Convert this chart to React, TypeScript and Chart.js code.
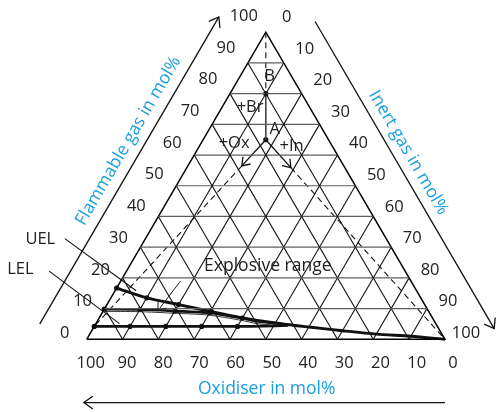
import React, { useEffect, useRef } from "react";
import { Chart, registerables } from "chart.js";

Chart.register(...registerables);

const W = 498;
const H = 412;

// tick values along each axis (mol%)
const TICKS = [0, 10, 20, 30, 40, 50, 60, 70, 80, 90, 100];
const TICK_LABELS = TICKS.map((t) => String(t));
const GRID_STEPS = [10, 20, 30, 40, 50, 60, 70, 80, 90];

// upper explosion limit curve: inert gas mol% -> flammable gas mol%
const UEL_INERT = [0, 10, 20, 30, 40, 50, 60, 70, 80, 90, 100];
const UEL_FLAM = [16.7, 13.5, 11.3, 9.1, 7.0, 5.3, 4.0, 2.8, 1.7, 1.0, 0];
// intermediate limit curve
const MID_INERT = [0, 10, 20, 30, 40, 45, 50];
const MID_FLAM = [9.8, 9.7, 9.2, 8.6, 6.9, 5.8, 5.3];
// lower explosion limit curve
const LEL_INERT = [0, 10, 20, 30, 40, 47, 54];
const LEL_FLAM = [4.2, 4.2, 4.2, 4.2, 4.2, 4.3, 4.5];
const DOT_COUNT = 5;

// mixture points (flammable %, inert %)
const POINT_A = { f: 65, i: 17.5 };
const POINT_B = { f: 80, i: 10 };

const S3 = Math.sqrt(3) / 2;
const tp = (f: number, i: number) => ({ x: i + f / 2, y: f * S3 });
const lerp = (a: { f: number; i: number }, b: { f: number; i: number }, t: number) => ({
  f: a.f + (b.f - a.f) * t,
  i: a.i + (b.i - a.i) * t,
});

export default function App() {
  const ref = useRef<HTMLCanvasElement | null>(null);

  useEffect(() => {
    document.body.style.margin = "0";
    const canvas = ref.current;
    if (!canvas) return;

    const datasets: any[] = [];
    const line = (pts: { x: number; y: number }[], color: string, width: number, extra: any = {}) => {
      datasets.push({
        data: pts,
        showLine: true,
        borderColor: color,
        backgroundColor: color,
        borderWidth: width,
        pointRadius: 0,
        pointHoverRadius: 0,
        fill: false,
        tension: 0,
        ...extra,
      });
    };

    // grid
    GRID_STEPS.forEach((k) => {
      line([tp(k, 0), tp(k, 100 - k)], "#5e5e5e", 1.2);
      line([tp(0, k), tp(100 - k, k)], "#111", 1.1);
      line([tp(0, 100 - k), tp(100 - k, 0)], "#111", 1.1);
    });
    // triangle border
    line([tp(0, 0), tp(0, 100), tp(100, 0), tp(0, 0)], "#000", 1.5);

    // construction lines
    const apex = { f: 100, i: 0 };
    const oxTarget = { f: LEL_FLAM[0], i: 0 };
    const inCorner = { f: 0, i: 100 };
    const oxTip = lerp(POINT_A, oxTarget, 0.14);
    const inTip = lerp(POINT_A, inCorner, 0.14);
    const dash = { borderDash: [6, 4] };
    line([tp(apex.f, apex.i), tp(POINT_B.f, POINT_B.i)], "#111", 1.1, dash);
    line([tp(oxTip.f, oxTip.i), tp(oxTarget.f, oxTarget.i)], "#111", 1.1, dash);
    line([tp(inTip.f, inTip.i), tp(inCorner.f, inCorner.i)], "#111", 1.1, dash);
    line([tp(POINT_B.f, POINT_B.i), tp(POINT_A.f, POINT_A.i)], "#444", 1.6);
    line([tp(POINT_A.f, POINT_A.i), tp(oxTip.f, oxTip.i)], "#111", 1.3, { arrow: "end" });
    line([tp(POINT_A.f, POINT_A.i), tp(inTip.f, inTip.i)], "#111", 1.3, { arrow: "end" });
    line([tp(19.0, 16.7), tp(9.3, 15.2)], "#222", 1, { arrow: "end" });

    // outer axis lines with arrows
    line([tp(5, -15.6), tp(105, -15.6)], "#111", 1.3, { arrow: "end", head: 11 });
    line([tp(103.5, 12), tp(3.5, 112)], "#111", 1.3, { arrow: "end", head: 11 });
    line([tp(-20.6, 110.3), tp(-20.6, 9.5)], "#111", 1.3, { arrow: "end", head: 11 });

    // label pointers
    line([tp(32.8, -22.5), tp(15.8, 5.9)], "#111", 1.1);
    line([tp(22.2, -21.6), tp(5.1, 6.6)], "#111", 1.1);

    // limit curves
    const curve = (ins: number[], fls: number[]) => ins.map((v, k) => tp(fls[k], v));
    line(curve(MID_INERT, MID_FLAM.map((v) => v - 0.7)), "#333", 1, { tension: 0.25 });
    line(curve(LEL_INERT, LEL_FLAM), "#111", 2.7, { tension: 0.25 });
    line(curve(MID_INERT, MID_FLAM), "#111", 2.7, { tension: 0.25 });
    line(curve(UEL_INERT, UEL_FLAM), "#111", 2.9, { tension: 0.25 });

    // dots
    const dots = [
      ...curve(UEL_INERT, UEL_FLAM).slice(0, DOT_COUNT - 1),
      ...curve(MID_INERT, MID_FLAM).slice(0, DOT_COUNT),
      ...curve(LEL_INERT, LEL_FLAM).slice(0, DOT_COUNT),
      tp(POINT_A.f, POINT_A.i),
      tp(POINT_B.f, POINT_B.i),
    ];
    datasets.push({
      data: dots,
      showLine: false,
      pointRadius: 2.6,
      pointHoverRadius: 2.6,
      pointBackgroundColor: "#111",
      pointBorderColor: "#111",
      pointBorderWidth: 0,
    });

    const FAM = '"Open Sans", Roboto, sans-serif';
    const DIGIT_FONT = `16.5px ${FAM}`;
    const BIG_FONT = `17.5px ${FAM}`;
    const BLUE = "#1aa0dc";
    const texts: { t: string; f: number; i: number; font: string; color: string; rot?: string }[] = [
      { t: "B", f: 85.5, i: 8.3, font: DIGIT_FONT, color: "#222" },
      { t: "+Br", f: 75.6, i: 7.8, font: DIGIT_FONT, color: "#222" },
      { t: "A", f: 68.5, i: 18.2, font: DIGIT_FONT, color: "#222" },
      { t: "+Ox", f: 63.7, i: 9.3, font: DIGIT_FONT, color: "#222" },
      { t: "+In", f: 63.0, i: 25.7, font: DIGIT_FONT, color: "#222" },
      { t: "Explosive range", f: 23.8, i: 38.65, font: BIG_FONT, color: "#222" },
      { t: "UEL", f: 32.5, i: -29.2, font: DIGIT_FONT, color: "#222" },
      { t: "LEL", f: 22.8, i: -29.9, font: DIGIT_FONT, color: "#222" },
      { t: "Flammable gas in mol%", f: 64.6, i: -20.7, font: BIG_FONT, color: BLUE, rot: "left" },
      { t: "Inert gas in mol%", f: 60.8, i: 59.4, font: BIG_FONT, color: BLUE, rot: "right" },
      { t: "Oxidiser in mol%", f: -16.1, i: 58.3, font: BIG_FONT, color: BLUE },
    ];

    const overlay = {
      id: "ternaryOverlay",
      afterDatasetsDraw(chart: any) {
        const ctx = chart.ctx as CanvasRenderingContext2D;
        const xs = chart.scales.x;
        const ys = chart.scales.y;
        const px = (p: { x: number; y: number }) => [xs.getPixelForValue(p.x), ys.getPixelForValue(p.y)];
        ctx.save();
        // arrowheads
        chart.data.datasets.forEach((ds: any) => {
          if (!ds.arrow) return;
          const n = ds.data.length;
          const [tx, ty] = px(ds.data[n - 1]);
          const [fx, fy] = px(ds.data[n - 2]);
          const len = ds.head || 9;
          const ang = Math.atan2(ty - fy, tx - fx);
          const sp = 0.62;
          ctx.strokeStyle = ds.borderColor;
          ctx.lineWidth = ds.borderWidth;
          ctx.setLineDash([]);
          ctx.beginPath();
          ctx.moveTo(tx - len * Math.cos(ang - sp), ty - len * Math.sin(ang - sp));
          ctx.lineTo(tx, ty);
          ctx.lineTo(tx - len * Math.cos(ang + sp), ty - len * Math.sin(ang + sp));
          ctx.stroke();
        });

        // tick labels
        ctx.fillStyle = "#222";
        ctx.font = DIGIT_FONT;
        ctx.textAlign = "center";
        ctx.textBaseline = "middle";
        TICKS.forEach((k, idx) => {
          const lab = TICK_LABELS[idx];
          const [lx, ly] = px(tp(k, 0));
          ctx.fillText(lab, lx - 22, ly - 6 - 0.1 * k);
          const [rx, ry] = px(tp(100 - k, k));
          ctx.fillText(lab, rx + 21, ry - 15 + 0.09 * k);
          const [bx, by] = px(tp(0, 100 - k));
          ctx.fillText(lab, bx + 6 - 0.04 * (k - 50), by + 24);
        });

        // texts
        const [ax, ay] = px(tp(0, 0));
        const [tx2, ty2] = px(tp(100, 0));
        const leftAng = Math.atan2(ty2 - ay, tx2 - ax);
        texts.forEach((o) => {
          const [x, y] = px(tp(o.f, o.i));
          ctx.save();
          ctx.translate(x, y);
          if (o.rot === "left") ctx.rotate(leftAng);
          if (o.rot === "right") ctx.rotate(-leftAng);
          ctx.font = o.font;
          ctx.fillStyle = o.color;
          ctx.textAlign = "center";
          ctx.textBaseline = "middle";
          ctx.fillText(o.t, 0, 0);
          ctx.restore();
        });
        ctx.restore();
      },
    };

    const chart = new Chart(canvas, {
      type: "scatter",
      data: { datasets },
      options: {
        animation: false,
        responsive: false,
        events: [],
        layout: { padding: 0 },
        plugins: { legend: { display: false }, tooltip: { enabled: false }, title: { display: false } },
        scales: {
          x: { type: "linear", display: false, min: -23.48, max: 114.09 },
          y: { type: "linear", display: false, min: -19.77, max: 94.96 },
        },
      },
      plugins: [overlay],
    });
    return () => chart.destroy();
  }, []);

  return (
    <div style={{ position: "absolute", left: 0, top: 0, width: W, height: H, background: "#fff" }}>
      <canvas ref={ref} width={W} height={H} />
    </div>
  );
}
